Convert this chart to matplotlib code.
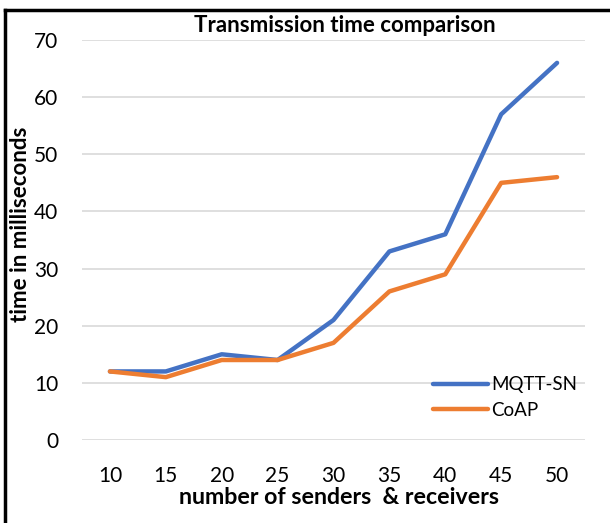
import matplotlib
matplotlib.use("Agg")
import matplotlib.pyplot as plt
from matplotlib.lines import Line2D

plt.rcParams['font.family'] = ['Lato', 'DejaVu Sans']

x_labels = ["10", "15", "20", "25", "30", "35", "40", "45", "50"]
mqtt_sn = [12, 12, 15, 14, 21, 33, 36, 57, 66]
coap = [12, 11, 14, 14, 17, 26, 29, 45, 46]
y_ticks = [0, 10, 20, 30, 40, 50, 60, 70]

W, H = 610, 523
fig = plt.figure(figsize=(W/100, H/100), dpi=100)
ax = fig.add_axes([82/W, 1 - 440/H, (585-82)/W, 400/H])

xs = list(range(len(x_labels)))
ax.plot(xs, mqtt_sn, color='#4472C4', lw=3.2, solid_capstyle='round', solid_joinstyle='round', label='MQTT-SN', zorder=3)
ax.plot(xs, coap, color='#ED7D31', lw=3.2, solid_capstyle='round', solid_joinstyle='round', label='CoAP', zorder=3)

ax.set_xlim(-0.5, len(x_labels) - 0.5)
ax.set_ylim(0, 70)
ax.set_yticks(y_ticks)
ax.set_xticks(xs)
ax.set_xticklabels(x_labels)
ax.grid(axis='y', color='#D9D9D9', lw=1.2)
ax.set_axisbelow(True)
for s in ax.spines.values():
    s.set_visible(False)
ax.tick_params(axis='both', length=0, labelsize=15, colors='black')
ax.tick_params(axis='y', pad=17)
ax.tick_params(axis='x', pad=19)

fig.text(339/W, 1 - 498/H, "number of senders  & receivers", fontsize=16.7, fontweight='bold', ha='center', va='center')
fig.text(21/W, 1 - 224/H, "time in milliseconds", fontsize=16, fontweight='bold', ha='center', va='center', rotation=90)
fig.text(345/W, 1 - 26/H, "Transmission time comparison", fontsize=16, fontweight='bold', ha='center', va='center')

leg = ax.legend(loc='lower right', bbox_to_anchor=(1.0, 0.035), frameon=False, fontsize=13.5,
                handlelength=2.9, handletextpad=0.2, labelspacing=0.45, borderaxespad=0.0)

# partial black border (left and top)
fig.add_artist(Line2D([4.5/W, 4.5/W], [0, 1 - 9.5/H], color='black', lw=2.5, transform=fig.transFigure))
fig.add_artist(Line2D([4.5/W, 1], [1 - 9.5/H, 1 - 9.5/H], color='black', lw=2.5, transform=fig.transFigure))

fig.savefig("out.png", dpi=100)
